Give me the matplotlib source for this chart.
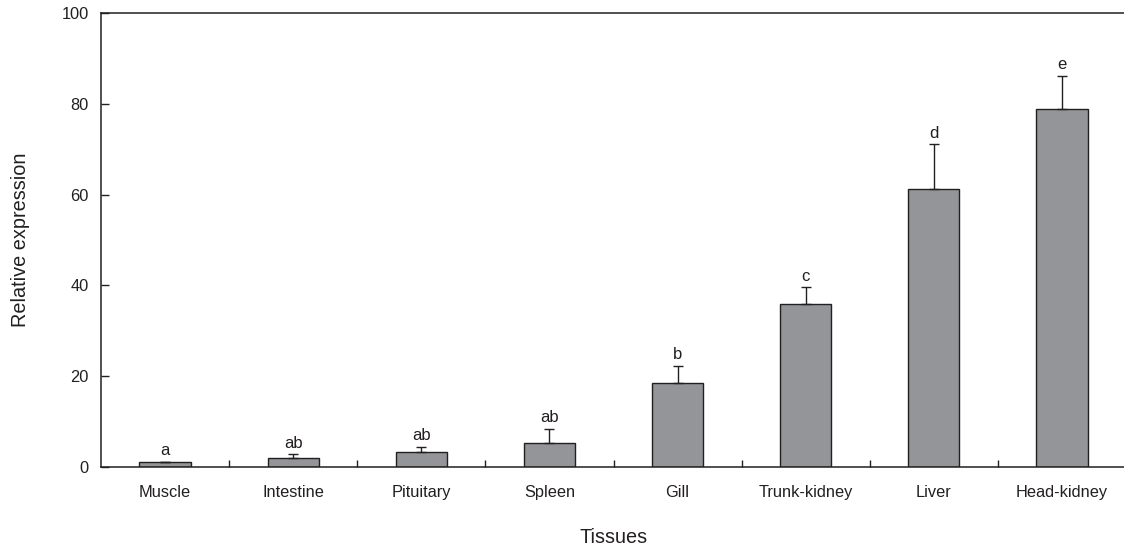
import matplotlib.pyplot as plt
import numpy as np

plt.rcParams["font.family"] = ["Liberation Sans", "DejaVu Sans"]

tissues = ["Muscle", "Intestine", "Pituitary", "Spleen", "Gill",
           "Trunk-kidney", "Liver", "Head-kidney"]
expression = [1.1, 1.9, 3.4, 5.2, 18.6, 35.9, 61.2, 78.9]
sem = [0.1, 0.9, 1.1, 3.2, 3.7, 3.7, 9.9, 7.3]
groups = ["a", "ab", "ab", "ab", "b", "c", "d", "e"]

text_c = "#231f20"
bar_c = "#939598"

fig = plt.figure(figsize=(11.24, 5.5), dpi=100)
ax = fig.add_axes([0.0899, 0.1509, 0.9119, 0.8255])

x = np.arange(len(tissues))
ax.bar(x, expression, width=0.4, color=bar_c, edgecolor=text_c, linewidth=1.0, zorder=2)
ax.errorbar(x, expression, yerr=[np.zeros(len(sem)), sem], fmt="none",
            ecolor=text_c, elinewidth=1.0, capsize=3.3, capthick=1.0, zorder=3)

# significance letters sit just above each error cap
for xi, v, e, g in zip(x, expression, sem, groups):
    ax.annotate(g, (xi, v + e), xytext=(0, 2.5), textcoords="offset points",
                ha="center", va="bottom", fontsize=12, color=text_c)

ax.set_xlim(-0.5, len(tissues) - 0.5)
ax.set_ylim(0, 100)
ax.set_yticks(range(0, 101, 20))

# boundaries get the tick marks, names go under the bar centres
ax.set_xticks(np.arange(0.5, len(tissues) - 1, 1.0))
ax.set_xticklabels([])
ax.set_xticks(x, minor=True)
ax.set_xticklabels(tissues, minor=True)
ax.tick_params(axis="x", which="major", direction="in", length=5, width=1.0, color=text_c)
ax.tick_params(axis="x", which="minor", length=0, pad=13, labelsize=11.8, labelcolor=text_c)
ax.tick_params(axis="y", direction="in", length=6, width=1.0, pad=9,
               labelsize=11.8, color=text_c, labelcolor=text_c)

ax.spines["right"].set_visible(False)
for side in ["left", "bottom", "top"]:
    ax.spines[side].set_color(text_c)
    ax.spines[side].set_linewidth(1.1)

ax.set_ylabel("Relative expression", fontsize=14.3, color=text_c, va="center")
ax.yaxis.set_label_coords(-0.079, 0.5)
ax.set_xlabel("Tissues", fontsize=14.3, color=text_c, va="center")
ax.xaxis.set_label_coords(0.5, -0.156)

fig.savefig("out.png", dpi=100)
